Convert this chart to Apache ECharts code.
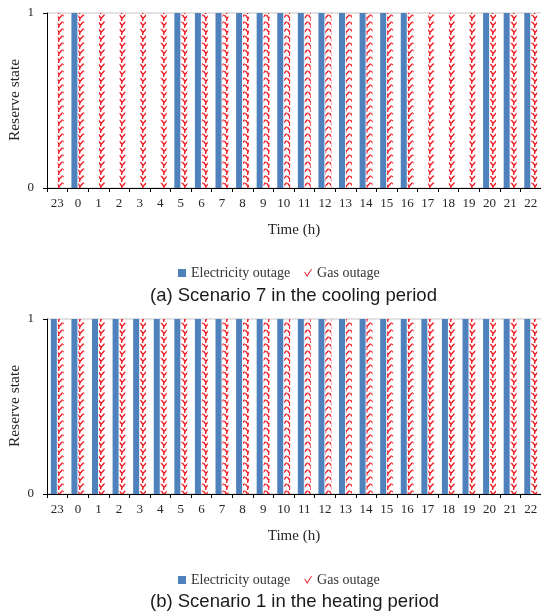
<!DOCTYPE html>
<html>
<head>
<meta charset="utf-8">
<script src="https://cdn.jsdelivr.net/npm/echarts@6/dist/echarts.min.js"></script>
<style>
  html, body { margin: 0; padding: 0; background: #fff; }
  #main { width: 541px; height: 612px; }
</style>
</head>
<body>
<div id="main"></div>
<script>
var hours = ['23', '0', '1', '2', '3', '4', '5', '6', '7', '8', '9', '10', '11',
    '12', '13', '14', '15', '16', '17', '18', '19', '20', '21', '22'];

// (a) scenario 7, cooling period
var elecCooling = [0, 1, 0, 0, 0, 0, 1, 1, 1, 1, 1, 1, 1, 1, 1, 1, 1, 1, 0, 0, 0, 1, 1, 1];
var gasCooling  = [1, 1, 1, 1, 1, 1, 1, 1, 1, 1, 1, 1, 1, 1, 1, 1, 1, 1, 1, 1, 1, 1, 1, 1];

// (b) scenario 1, heating period
var elecHeating = [1, 1, 1, 1, 1, 1, 1, 1, 1, 1, 1, 1, 1, 1, 1, 1, 1, 1, 1, 1, 1, 1, 1, 1];
var gasHeating  = [1, 1, 1, 1, 1, 1, 1, 1, 1, 1, 1, 1, 1, 1, 1, 1, 1, 1, 1, 1, 1, 1, 1, 1];

var yTicks = [0, 1];

// little red zigzag marks used as fill for the gas bars
function makeGasPattern() {
    var c = document.createElement('canvas');
    c.width = 7;
    c.height = 7;
    var ctx = c.getContext('2d');
    ctx.strokeStyle = '#f01c24';
    ctx.lineWidth = 1.4;
    ctx.lineCap = 'round';
    ctx.beginPath();
    ctx.moveTo(0.8, 1.5);
    ctx.lineTo(3, 4.5);
    ctx.lineTo(6.2, 1);
    ctx.moveTo(3, 4.5);
    ctx.lineTo(2.6, 6.5);
    ctx.stroke();
    return c;
}
var gasFill = { image: makeGasPattern(), repeat: 'repeat' };

var chartDom = document.getElementById('main');
var myChart = echarts.init(chartDom);
var option;

var serif = 'Liberation Serif';
var tickPath = 'path://M0,3 L1,3 L3,6 L7,0 L8,0 L3,8 Z';

function xAxisCfg(idx) {
    return {
        type: 'category',
        gridIndex: idx,
        data: hours,
        name: 'Time (h)',
        nameLocation: 'middle',
        nameGap: 35,
        nameTextStyle: { fontFamily: serif, fontSize: 15, color: '#262626' },
        axisLine: { lineStyle: { color: '#000', width: 1 } },
        axisTick: { show: true, length: 4, lineStyle: { color: '#000' } },
        axisLabel: { interval: 0, margin: 9, fontFamily: serif, fontSize: 13, color: '#262626' }
    };
}

function yAxisCfg(idx) {
    return {
        type: 'value',
        gridIndex: idx,
        min: 0,
        max: 1,
        interval: 1,
        axisLine: { show: true, lineStyle: { color: '#000', width: 1 } },
        axisTick: { show: true, length: 4, lineStyle: { color: '#000' } },
        axisLabel: {
            margin: 13, fontFamily: serif, fontSize: 13, color: '#262626',
            formatter: function (v) { return yTicks.indexOf(v) >= 0 ? String(v) : ''; }
        },
        splitLine: { show: true, lineStyle: { color: '#d9d9d9', width: 1.5 } }
    };
}

// y axis titles as plain rotated text, so they sit where the reference has them
function yTitle(cy) {
    return {
        type: 'text',
        x: 15,
        y: cy,
        rotation: Math.PI / 2,
        style: {
            text: 'Reserve state',
            font: '15.5px "Liberation Serif"',
            fill: '#262626',
            align: 'center',
            verticalAlign: 'middle'
        }
    };
}

function legendCfg(top) {
    return {
        top: top,
        left: 173,
        itemWidth: 8,
        itemHeight: 8,
        itemGap: 14,
        textStyle: { fontFamily: serif, fontSize: 14, color: '#333' },
        data: [
            { name: 'Electricity outage', icon: 'rect', itemStyle: { color: '#4f81bd' } },
            { name: 'Gas outage', icon: tickPath, itemStyle: { color: '#e8202a' } }
        ]
    };
}

function barSeries(name, xi, data) {
    var isGas = name === 'Gas outage';
    return {
        name: name,
        type: 'bar',
        xAxisIndex: xi,
        yAxisIndex: xi,
        barWidth: 6,
        barGap: '15%',
        itemStyle: { color: isGas ? gasFill : '#4f81bd' },
        emphasis: { disabled: true },
        data: data
    };
}

var captionStyle = { fontFamily: 'Liberation Sans', fontSize: 18.5, fontWeight: 'normal', color: '#1a1a1a' };

option = {
    animation: false,
    title: [
        { text: '(a) Scenario 7 in the cooling period', left: 145, top: 281, textStyle: captionStyle },
        { text: '(b) Scenario 1 in the heating period', left: 145, top: 587, textStyle: captionStyle }
    ],
    graphic: [yTitle(100), yTitle(406)],
    legend: [legendCfg(261), legendCfg(568)],
    grid: [
        { left: 47, right: 0, top: 13, height: 175, outerBoundsMode: 'none' },
        { left: 47, right: 0, top: 319, height: 175, outerBoundsMode: 'none' }
    ],
    xAxis: [xAxisCfg(0), xAxisCfg(1)],
    yAxis: [yAxisCfg(0), yAxisCfg(1)],
    series: [
        barSeries('Electricity outage', 0, elecCooling),
        barSeries('Gas outage', 0, gasCooling),
        barSeries('Electricity outage', 1, elecHeating),
        barSeries('Gas outage', 1, gasHeating)
    ]
};

option && myChart.setOption(option);
</script>
</body>
</html>
